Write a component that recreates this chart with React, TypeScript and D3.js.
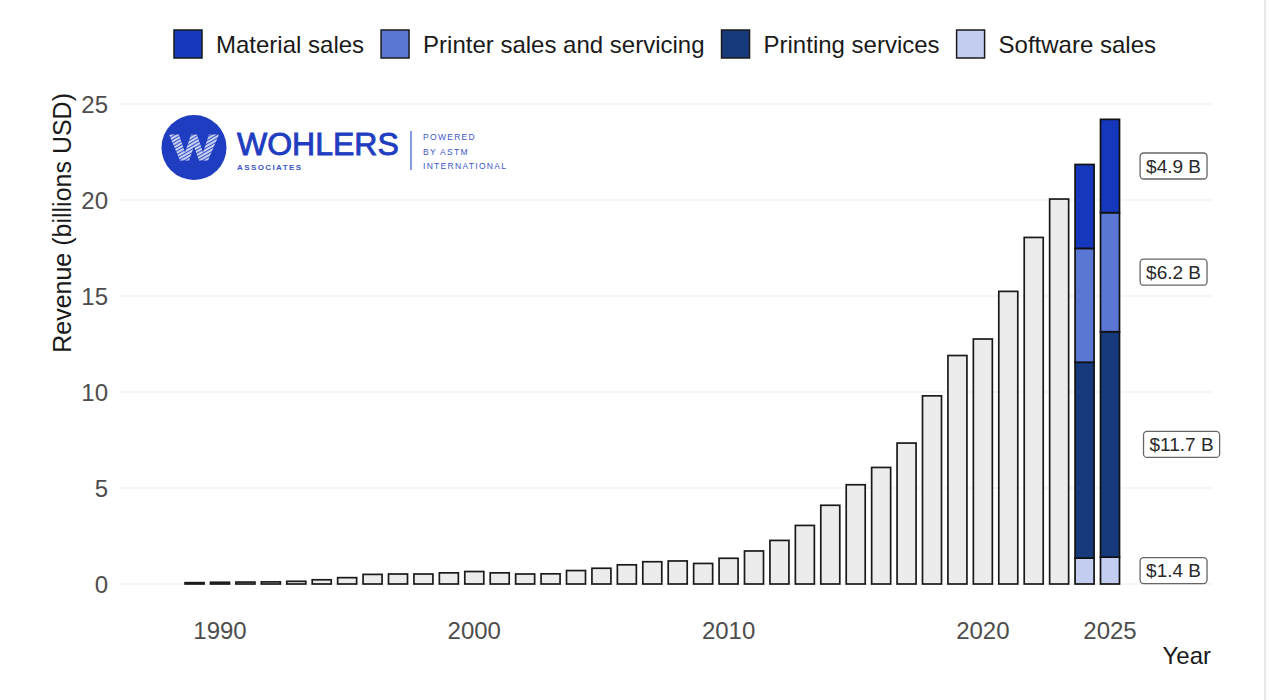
import React, { useEffect, useRef } from "react";
import * as d3 from "d3";

// yearly revenue (billions USD), one total per year
const years = [
  1989, 1990, 1991, 1992, 1993, 1994, 1995, 1996, 1997, 1998, 1999, 2000, 2001,
  2002, 2003, 2004, 2005, 2006, 2007, 2008, 2009, 2010, 2011, 2012, 2013, 2014,
  2015, 2016, 2017, 2018, 2019, 2020, 2021, 2022, 2023,
];
const totals = [
  0.07, 0.09, 0.1, 0.11, 0.14, 0.22, 0.33, 0.5, 0.52, 0.52, 0.58, 0.65, 0.58,
  0.52, 0.53, 0.7, 0.82, 1.0, 1.16, 1.2, 1.07, 1.34, 1.72, 2.27, 3.05, 4.1,
  5.17, 6.07, 7.34, 9.8, 11.9, 12.76, 15.24, 18.05, 20.05,
];

// split years, stacked bottom to top
const stackYears = [2024, 2025];
const softwareSales = [1.35, 1.4];
const printingServices = [10.2, 11.74];
const printerSales = [5.93, 6.2];
const materialSales = [4.37, 4.86];

const segmentNames = ["Software sales", "Printing services", "Printer sales and servicing", "Material sales"];
const segmentColors = ["#c3cdf0", "#163a7c", "#5b77d4", "#1537bc"];
const legendNames = ["Material sales", "Printer sales and servicing", "Printing services", "Software sales"];
const segmentLabels = ["$1.4 B", "$11.7 B", "$6.2 B", "$4.9 B"];
const labelNudge = [0, 8, 0, 0];

const xTicks = [1990, 2000, 2010, 2020, 2025];
const yTicks = [0, 5, 10, 15, 20, 25];

const W = 1269;
const H = 700;
const FONT = "'Liberation Sans', Arial, Helvetica, sans-serif";

function App() {
  const ref = useRef<SVGSVGElement>(null);

  useEffect(() => {
    const svg = d3.select(ref.current);
    svg.selectAll("*").remove();

    const x = d3.scaleLinear().domain([1990, 2025]).range([220, 1110]);
    const y = d3.scaleLinear().domain([0, 25]).range([584, 104]);
    const barW = 19;

    svg.append("rect").attr("width", W).attr("height", H).attr("fill", "#fff");
    svg.append("line").attr("x1", 1265).attr("x2", 1265).attr("y1", 0).attr("y2", H)
      .attr("stroke", "#e2e2e2").attr("stroke-width", 1.5);

    // grid
    svg.append("g").selectAll("line").data(yTicks).join("line")
      .attr("x1", 120).attr("x2", 1212)
      .attr("y1", (d) => y(d)).attr("y2", (d) => y(d))
      .attr("stroke", "#ebebeb").attr("stroke-width", 1.2);

    // y tick labels
    svg.append("g").selectAll("text").data(yTicks).join("text")
      .attr("x", 108).attr("y", (d) => y(d)).attr("dy", "0.36em")
      .attr("text-anchor", "end").attr("font-family", FONT).attr("font-size", 24)
      .attr("fill", "#4d4d4d").text((d) => d);

    // x tick labels
    svg.append("g").selectAll("text").data(xTicks).join("text")
      .attr("x", (d) => x(d)).attr("y", 630).attr("dy", "0.36em")
      .attr("text-anchor", "middle").attr("font-family", FONT).attr("font-size", 24)
      .attr("fill", "#4d4d4d").text((d) => d);

    // axis titles
    svg.append("text")
      .attr("transform", "translate(71,93) rotate(-90)")
      .attr("text-anchor", "end").attr("font-family", FONT).attr("font-size", 25)
      .attr("fill", "#1a1a1a").text("Revenue (billions USD)");
    svg.append("text")
      .attr("x", 1211).attr("y", 664).attr("text-anchor", "end")
      .attr("font-family", FONT).attr("font-size", 24).attr("fill", "#1a1a1a").text("Year");

    // plain bars
    svg.append("g").selectAll("rect").data(years).join("rect")
      .attr("x", (d) => x(d) - barW / 2)
      .attr("width", barW)
      .attr("y", (d, i) => y(totals[i]))
      .attr("height", (d, i) => y(0) - y(totals[i]))
      .attr("fill", "#ececec").attr("stroke", "#1a1a1a").attr("stroke-width", 1.7);

    // stacked bars
    const stackRows = stackYears.map((yr, i) => ({
      year: yr,
      [segmentNames[0]]: softwareSales[i],
      [segmentNames[1]]: printingServices[i],
      [segmentNames[2]]: printerSales[i],
      [segmentNames[3]]: materialSales[i],
    }));
    const series = d3.stack<any>().keys(segmentNames)(stackRows);
    const sg = svg.append("g");
    series.forEach((s, k) => {
      sg.append("g").selectAll("rect").data(s).join("rect")
        .attr("x", (d: any) => x(d.data.year) - barW / 2)
        .attr("width", barW)
        .attr("y", (d) => y(d[1]))
        .attr("height", (d) => y(d[0]) - y(d[1]))
        .attr("fill", segmentColors[k]).attr("stroke", "#111").attr("stroke-width", 1.7);
    });

    // segment labels beside the last bar
    const last = series.map((s) => s[s.length - 1]);
    last.forEach((d, k) => {
      const g = svg.append("g")
        .attr("transform", `translate(${x(2027.5) + labelNudge[k]},${y((d[0] + d[1]) / 2)})`);
      const t = g.append("text").attr("text-anchor", "middle").attr("dy", "0.36em")
        .attr("font-family", FONT).attr("font-size", 19).attr("fill", "#2a2a2a")
        .text(segmentLabels[k]);
      const w = (t.node() as SVGTextElement).getComputedTextLength();
      g.insert("rect", "text")
        .attr("x", -w / 2 - 6).attr("y", -13).attr("width", w + 12).attr("height", 26)
        .attr("rx", 3.5).attr("fill", "#fff").attr("stroke", "#666").attr("stroke-width", 1.3);
    });

    // legend
    const lg = svg.append("g");
    const key = 28;
    let cx = 0;
    legendNames.forEach((name) => {
      const k = segmentNames.indexOf(name);
      const item = lg.append("g").attr("transform", `translate(${cx},0)`);
      item.append("rect").attr("x", 0).attr("y", -key / 2).attr("width", key).attr("height", key)
        .attr("fill", segmentColors[k]).attr("stroke", "#1a1a1a").attr("stroke-width", 1.5);
      const t = item.append("text").attr("x", key + 14).attr("dy", "0.36em")
        .attr("font-family", FONT).attr("font-size", 24).attr("fill", "#1a1a1a").text(name);
      const tw = (t.node() as SVGTextElement).getComputedTextLength();
      cx += key + 14 + tw + 17;
    });
    const totalW = cx - 17;
    lg.attr("transform", `translate(${665 - totalW / 2},44)`);

    // logo
    const logo = svg.append("g").attr("transform", "translate(194,147.5)");
    const defs = svg.append("defs");
    const pat = defs.append("pattern").attr("id", "wStripes").attr("patternUnits", "userSpaceOnUse")
      .attr("width", 3).attr("height", 3).attr("patternTransform", "rotate(60)");
    pat.append("rect").attr("width", 3).attr("height", 3).attr("fill", "#c9d1f2");
    pat.append("rect").attr("width", 1).attr("height", 3).attr("fill", "#3150c8");
    logo.append("circle").attr("r", 32.5).attr("fill", "#1f3dc0");
    const wPts: [number, number][] = [
      [-25, -13], [-15, -13], [-9, 5], [-3, -13], [3, -13], [9, 5], [15, -13], [25, -13],
      [14, 13], [5, 13], [0, -1], [-5, 13], [-14, 13],
    ];
    logo.append("path").attr("d", d3.line()(wPts) + "Z").attr("fill", "url(#wStripes)");
    svg.append("text").attr("x", 237).attr("y", 155).attr("font-family", FONT)
      .attr("font-size", 32).attr("fill", "#1f3dc0").attr("stroke", "#1f3dc0")
      .attr("stroke-width", 0.9).text("WOHLERS");
    svg.append("text").attr("x", 237).attr("y", 169.5).attr("font-family", FONT)
      .attr("font-weight", 700).attr("font-size", 8).attr("letter-spacing", 1.4)
      .attr("fill", "#3a56c8").text("ASSOCIATES");
    svg.append("line").attr("x1", 411).attr("x2", 411).attr("y1", 131).attr("y2", 170)
      .attr("stroke", "#3a56c8").attr("stroke-width", 1.2);
    ["POWERED", "BY ASTM", "INTERNATIONAL"].forEach((s, i) => {
      svg.append("text").attr("x", 423).attr("y", 140 + i * 14.5).attr("font-family", FONT)
        .attr("font-size", 8.5).attr("letter-spacing", 1.3).attr("fill", "#3a56c8").text(s);
    });
  }, []);

  return (
    <svg
      ref={ref}
      width={W}
      height={H}
      style={{ position: "absolute", left: 0, top: 0, display: "block" }}
    />
  );
}

export default App;
